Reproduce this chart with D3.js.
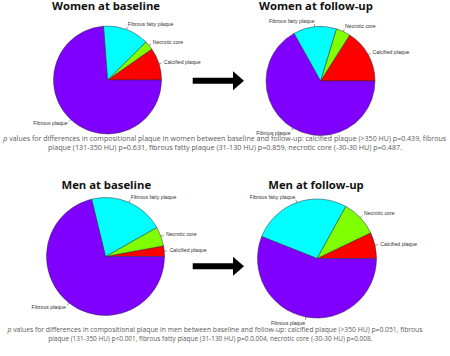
<!DOCTYPE html>
<html><head><meta charset="utf-8">
<script src="https://cdn.jsdelivr.net/npm/d3@7"></script>
<style>html,body{margin:0;padding:0;background:#fff;}svg{display:block;}</style>
</head><body>
<svg id="c" width="450" height="356"></svg>
<script>
// ---- data ----
const categories = ["Calcified plaque", "Necrotic core", "Fibrous fatty plaque", "Fibrous plaque"];
const colors = ["#FF0000", "#80FF00", "#00FFFF", "#8000FF"];
const titles = ["Women at baseline", "Women at follow-up", "Men at baseline", "Men at follow-up"];
const womenBaseline = [9.7, 2.7, 13.8, 73.8];
const womenFollowup = [16.0, 4.3, 12.8, 66.9];
const menBaseline = [2.9, 5.3, 20.6, 71.2];
const menFollowup = [7.1, 9.9, 27.0, 56.0];
const womenNote = [
  "values for differences in compositional plaque in women between baseline and follow-up: calcified plaque (>350 HU) p=0.439, fibrous",
  "plaque (131-350 HU) p=0.631, fibrous fatty plaque (31-130 HU) p=0.859, necrotic core (-30-30 HU) p=0.487."
];
const menNote = [
  "values for differences in compositional plaque in men between baseline and follow-up: calcified plaque (>350 HU) p=0.051, fibrous",
  "plaque (131-350 HU) p<0.001, fibrous fatty plaque (31-130 HU) p=0.0.004, necrotic core (-30-30 HU) p=0.008."
];

// ---- layout ----
const svg = d3.select("#c");
const panels = [
  {values: womenBaseline, title: titles[0], cx: 107.5, cy: 80, r: 54, tx: 106, ty: 10, clipX: null},
  {values: womenFollowup, title: titles[1], cx: 320.5, cy: 81, r: 54.5, tx: 316, ty: 10, clipX: null},
  {values: menBaseline, title: titles[2], cx: 105.5, cy: 256.5, r: 59, tx: 106.3, ty: 189.3, clipX: 208},
  {values: menFollowup, title: titles[3], cx: 317, cy: 258.5, r: 59.5, tx: 316, ty: 189.3, clipX: null}
];

const pie = d3.pie().sort(null).value(d => d).startAngle(Math.PI / 2).endAngle(Math.PI / 2 - 2 * Math.PI);

const defs = svg.append("defs");
panels.forEach((p, i) => {
  const g = svg.append("g");
  if (p.clipX != null) {
    defs.append("clipPath").attr("id", "clip" + i)
      .append("rect").attr("x", 0).attr("y", 0).attr("width", p.clipX).attr("height", 356);
    g.attr("clip-path", `url(#clip${i})`);
  }
  const inner = g.append("g").attr("transform", `translate(${p.cx},${p.cy})`);
  const arc = d3.arc().innerRadius(0).outerRadius(p.r);
  const arcs = pie(p.values);
  inner.selectAll("path.slice").data(arcs).enter().append("path")
    .attr("class", "slice")
    .attr("d", arc)
    .attr("fill", (d, j) => colors[j])
    .attr("stroke", "#2a2a40")
    .attr("stroke-width", 0.5);
  arcs.forEach((d, j) => {
    const m = (d.startAngle + d.endAngle) / 2;
    const sx = Math.sin(m), sy = -Math.cos(m);
    inner.append("line")
      .attr("x1", sx * p.r).attr("y1", sy * p.r)
      .attr("x2", sx * p.r * 1.05).attr("y2", sy * p.r * 1.05)
      .attr("stroke", "#333").attr("stroke-width", 0.5);
    inner.append("text")
      .attr("x", sx * p.r * 1.1 + (sx >= 0 ? -0.5 : 0.5))
      .attr("y", sy * p.r * 1.1)
      .attr("dy", "0.35em")
      .attr("text-anchor", sx >= 0 ? "start" : "end")
      .attr("font-family", "Liberation Sans, Arial, sans-serif")
      .attr("font-size", 5.2)
      .attr("fill", "#333")
      .text(categories[j]);
  });
  svg.append("text")
    .attr("x", p.tx)
    .attr("y", p.ty)
    .attr("text-anchor", "middle")
    .attr("font-family", "Open Sans, sans-serif")
    .attr("font-weight", "bold")
    .attr("font-size", 11.3)
    .attr("fill", "#111")
    .text(p.title);
});

// arrows
function arrow(x0, x1, y) {
  const shaftEnd = x1 - 11;
  const path = `M${x0},${y - 3}L${shaftEnd},${y - 3}L${shaftEnd},${y - 9.5}L${x1},${y}L${shaftEnd},${y + 9.5}L${shaftEnd},${y + 3}L${x0},${y + 3}Z`;
  svg.append("path").attr("d", path).attr("fill", "#000");
}
arrow(192.7, 244, 80.8);
arrow(192.7, 244, 266.2);

// notes
function note(lines, centers, baselines, widths) {
  lines.forEach((ln, i) => {
    const t = svg.append("text")
      .attr("x", centers[i]).attr("y", baselines[i])
      .attr("text-anchor", "middle")
      .attr("font-family", "Open Sans, sans-serif")
      .attr("font-size", 10)
      .attr("fill", "#5a5a5a");
    if (i === 0) {
      t.append("tspan").attr("font-style", "italic").text("p");
      t.append("tspan").text(" " + ln);
    } else {
      t.text(ln);
    }
    const w = t.node().getComputedTextLength();
    t.attr("font-size", 10 * widths[i] / w);
  });
}
note(womenNote, [224.7, 225], [140.9, 149.8], [444, 354.6]);
note(menNote, [215, 210.3], [331.6, 341.2], [415.4, 324.7]);
</script>
</body></html>
